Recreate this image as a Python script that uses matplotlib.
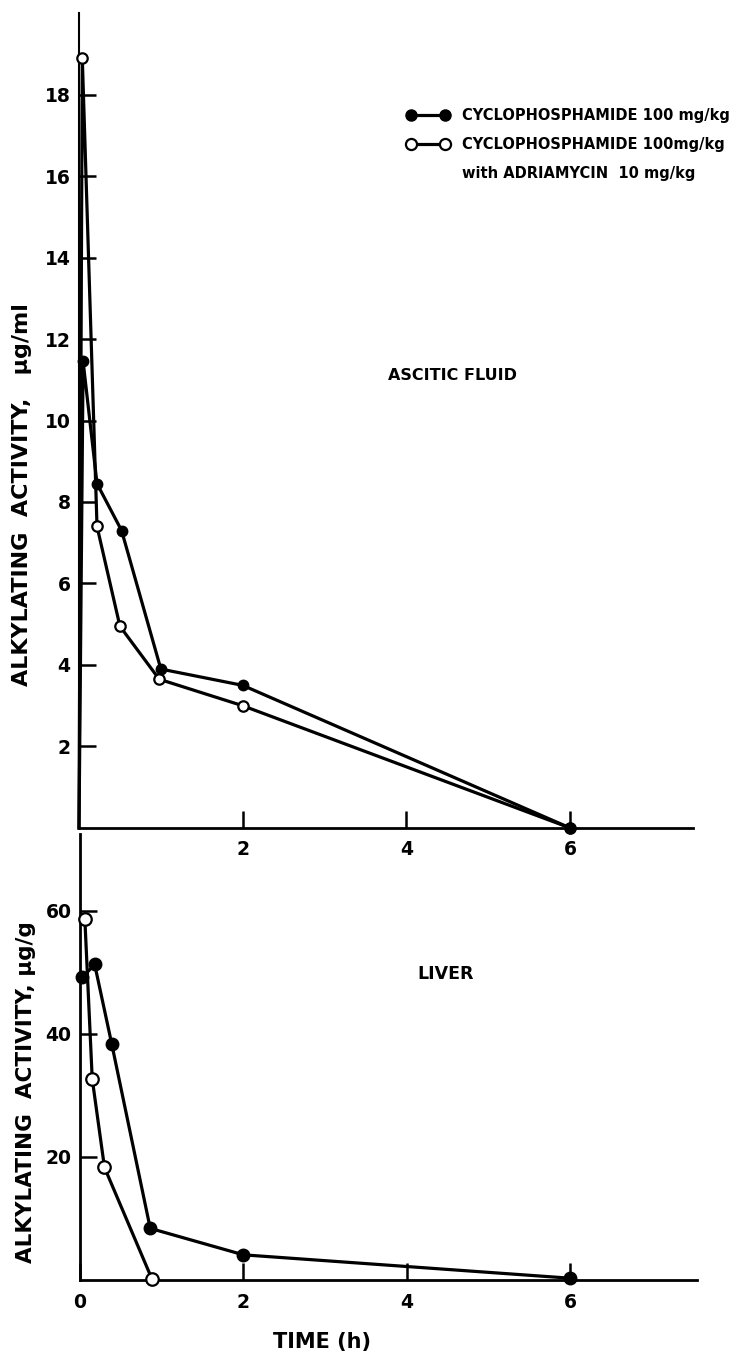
import matplotlib
matplotlib.use("Agg")
import matplotlib.pyplot as plt
from matplotlib.lines import Line2D

# ascitic fluid, alkylating activity (ug/ml) vs time (h)
t_fluid_cy = [0, 0.05, 0.22, 0.52, 1.0, 2.0, 6.0]
fluid_cy = [0, 11.45, 8.45, 7.3, 3.9, 3.5, 0]
t_fluid_adr = [0, 0.04, 0.22, 0.5, 0.98, 2.0, 6.0]
fluid_adr = [0, 18.9, 7.4, 4.95, 3.65, 3.0, 0]

# liver, alkylating activity (ug/g) vs time (h)
t_liver_cy = [0.03, 0.18, 0.39, 0.86, 2.0, 6.0]
liver_cy = [49.2, 51.3, 38.3, 8.4, 4.1, 0.3]
t_liver_adr = [0.06, 0.15, 0.30, 0.88]
liver_adr = [58.6, 32.7, 18.3, 0.2]

fluid_yticks = [2, 4, 6, 8, 10, 12, 14, 16, 18]
liver_yticks = [20, 40, 60]

label_cy = "CYCLOPHOSPHAMIDE 100 mg/kg"
label_adr = "CYCLOPHOSPHAMIDE 100mg/kg"
label_adr2 = "with ADRIAMYCIN  10 mg/kg"

plt.rcParams['font.family'] = ['DejaVu Sans']
plt.rcParams['font.weight'] = 'bold'

fig = plt.figure(figsize=(7.37, 13.58), dpi=100)
ax1 = fig.add_axes([0.1072, 0.3903, 0.833, 0.6001])
ax2 = fig.add_axes([0.1085, 0.0574, 0.837, 0.3285])
ax2.patch.set_alpha(0)

lw = 2.3
open_style = dict(color='k', lw=lw, marker='o', mfc='white', mec='k', mew=1.6, clip_on=False)
fill_style = dict(color='k', lw=lw, marker='o', mfc='k', mec='k', clip_on=False)

# top panel
ax1.plot(t_fluid_adr, fluid_adr, ms=7.5, markevery=list(range(1, len(t_fluid_adr))), zorder=3, **open_style)
ax1.plot(t_fluid_cy, fluid_cy, ms=7.5, markevery=list(range(1, len(t_fluid_cy))), zorder=4, **fill_style)
ax1.set_xlim(0, 7.5)
ax1.set_ylim(0, 20)
ax1.set_yticks(fluid_yticks)
ax1.set_xticks([2, 4, 6])
ax1.text(0.608, 0.555, "ASCITIC FLUID", transform=ax1.transAxes, fontsize=11.5, ha='center', va='center')

h_cy = Line2D([], [], ms=8, **fill_style)
h_adr = Line2D([], [], ms=8, **open_style)
h_blank = Line2D([], [], ls='none')
ax1.legend([h_cy, h_adr, h_blank], [label_cy, label_adr, label_adr2], loc='upper left',
           bbox_to_anchor=(0.534, 0.883), frameon=False, numpoints=2, handlelength=2.9,
           handletextpad=0.9, borderpad=0, borderaxespad=0, labelspacing=0.95,
           prop=dict(size=10.5, weight='bold'))

# bottom panel
ax2.plot(t_liver_adr, liver_adr, ms=9, zorder=3, **open_style)
ax2.plot(t_liver_cy, liver_cy, ms=9, zorder=4, **fill_style)
ax2.set_xlim(0, 7.55)
ax2.set_ylim(0, 72.5)
ax2.set_yticks(liver_yticks)
ax2.set_xticks([0, 2, 4, 6])
ax2.text(0.593, 0.685, "LIVER", transform=ax2.transAxes, fontsize=12.5, ha='center', va='center')

for ax in (ax1, ax2):
    ax.spines['top'].set_visible(False)
    ax.spines['right'].set_visible(False)
    ax.spines['left'].set_linewidth(2.0)
    ax.spines['bottom'].set_linewidth(2.0)
    ax.tick_params(direction='in', length=12, width=1.8, labelsize=13.5, pad=6)
    ax.tick_params(axis='x', pad=9)
    for lab in ax.get_xticklabels() + ax.get_yticklabels():
        lab.set_fontweight('bold')
ax1.spines['left'].set_linewidth(1.5)

fig.text(0.030, 0.636, "ALKYLATING  ACTIVITY,   μg/ml", rotation=90, fontsize=16,
         ha='center', va='center')
fig.text(0.035, 0.196, "ALKYLATING  ACTIVITY, μg/g", rotation=90, fontsize=15.5,
         ha='center', va='center')
fig.text(0.437, 0.012, "TIME (h)", fontsize=15, ha='center', va='center')

fig.savefig("out.png", dpi=100)
